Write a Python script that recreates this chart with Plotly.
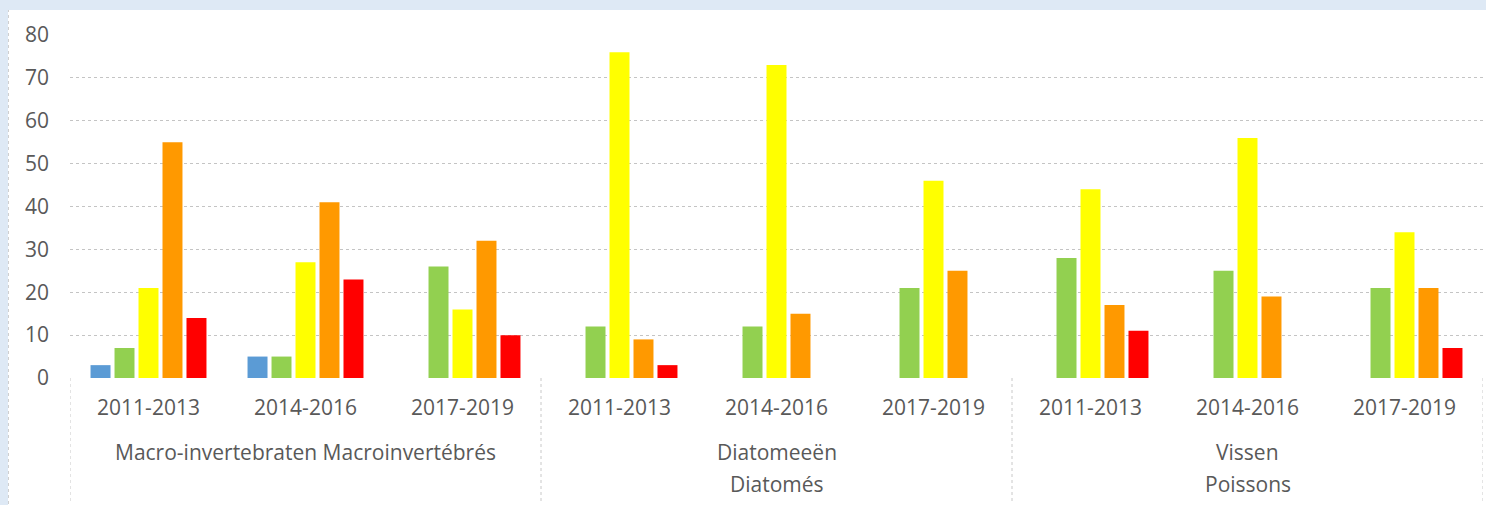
import plotly.graph_objects as go

# ---- data ----
groups = [["Macro-invertebraten Macroinvertébrés"], ["Diatomeeën", "Diatomés"], ["Vissen", "Poissons"]]
periods = ["2011-2013", "2014-2016", "2017-2019"]

series_names = ["Zeer goed", "Goed", "Matig", "Ontoereikend", "Slecht"]
blue = [3, 5, 0, 0, 0, 0, 0, 0, 0]
green = [7, 5, 26, 12, 12, 21, 28, 25, 21]
yellow = [21, 27, 16, 76, 73, 46, 44, 56, 34]
orange = [55, 41, 32, 9, 15, 25, 17, 19, 21]
red = [14, 23, 10, 3, 0, 0, 11, 0, 7]
colors = ["#5B9BD5", "#92D050", "#FFFF00", "#FF9900", "#FF0000"]

y_ticks = [0, 10, 20, 30, 40, 50, 60, 70, 80]

# ---- figure ----
n_per = len(periods)
n_cat = len(groups) * n_per
cat_pos = list(range(n_cat))
tick_text = [p for _ in groups for p in periods]

fig = go.Figure()
for name, vals, col in zip(series_names, [blue, green, yellow, orange, red], colors):
    fig.add_trace(go.Bar(
        x=cat_pos, y=vals, name=name,
        marker=dict(color=col, line=dict(width=0)),
    ))

FONT = "'Open Sans', Lato, sans-serif"
FS = 21
TXT = "#595959"
W, H = 1486, 505
L, R, T, B = 70, 3, 35, 127
pw, ph = W - L - R, H - T - B

def px_x(p):
    return (p - L) / pw

def px_y(p):
    return (H - B - p) / ph

# white chart area over light-blue frame
fig.add_shape(type="rect", xref="paper", yref="paper",
              x0=px_x(8), x1=px_x(W + 5), y0=px_y(H + 5), y1=px_y(10),
              fillcolor="white", line=dict(width=0), layer="below")
fig.add_shape(type="line", xref="paper", yref="paper",
              x0=px_x(8.5), x1=px_x(8.5), y0=px_y(H + 5), y1=px_y(10),
              line=dict(color="#cfcfcf", width=1, dash="dot"), layer="below")

# group dividers below the category axis
for k in range(len(groups) + 1):
    xb = k * n_per - 0.5
    fig.add_shape(type="line", xref="x", yref="paper",
                  x0=xb, x1=xb, y0=0, y1=px_y(502),
                  line=dict(color="#c8c8c8", width=1, dash="dot"))

# group labels (one annotation per text line)
line_y = [452, 484]
for gi, lines in enumerate(groups):
    xc = gi * n_per + (n_per - 1) / 2
    for li, txt in enumerate(lines):
        fig.add_annotation(x=xc, xref="x", y=px_y(line_y[li]), yref="paper",
                           text=txt, showarrow=False, xanchor="center", yanchor="middle",
                           font=dict(family=FONT, size=FS, color=TXT))

fig.update_layout(
    width=W, height=H,
    margin=dict(l=L, r=R, t=T, b=B, autoexpand=False),
    paper_bgcolor="#DEE9F5",
    plot_bgcolor="white",
    showlegend=False,
    barmode="group",
    bargap=0.236,
    bargroupgap=0.167,
    font=dict(family=FONT, size=FS, color=TXT),
)
fig.update_xaxes(
    range=[-0.5, n_cat - 0.5],
    tickvals=cat_pos, ticktext=tick_text,
    showline=False, zeroline=False, showgrid=False, ticks="",
    ticklabelstandoff=15,
    tickfont=dict(family=FONT, size=FS, color=TXT),
)
fig.update_yaxes(
    range=[0, 80], tickvals=y_ticks,
    showgrid=True, gridcolor="#c4c4c4", gridwidth=1, griddash="dot",
    zeroline=False, showline=False, ticks="",
    ticklabelstandoff=20,
    tickfont=dict(family=FONT, size=FS, color=TXT),
)

fig.write_html("out.html", config={"displayModeBar": False},
               post_script="document.body.style.margin='0';document.body.style.overflow='hidden';")
